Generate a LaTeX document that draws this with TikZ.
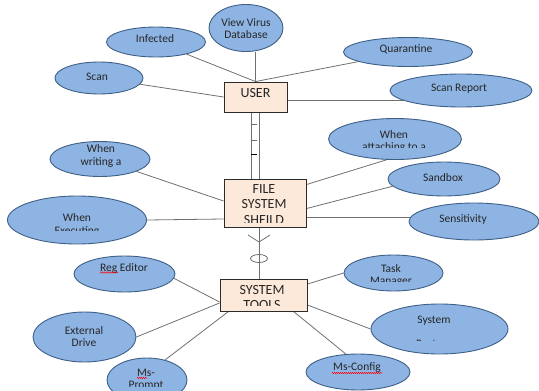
\documentclass[tikz,border=0pt]{standalone}
\usepackage{fontspec}
\setmainfont{Carlito}
\usetikzlibrary{shapes.geometric,calc,backgrounds,decorations.pathmorphing}
\definecolor{ellfill}{HTML}{8EB4E3}
\definecolor{elldraw}{HTML}{3E5F86}
\definecolor{boxfill}{HTML}{FDE9D9}
\definecolor{boxdraw}{HTML}{2B2B2B}
\definecolor{linec}{HTML}{707070}
\definecolor{txt}{HTML}{262626}
\begin{document}
\begin{tikzpicture}[x=1pt,y=-1pt,
 ell/.style={ellipse, draw=elldraw, fill=ellfill, line width=0.9pt, inner sep=0pt},
 etxt/.style={text=txt, font=\fontsize{11.5}{12.5}\selectfont, align=center, inner sep=0pt},
 ebox/.style={rectangle, draw=boxdraw, fill=boxfill, line width=0.9pt, inner sep=0pt},
 btxt/.style={text=txt, font=\fontsize{14}{15.5}\selectfont, align=center, inner sep=0pt},
 conn/.style={draw=linec, line width=0.8pt},
 squig/.style={draw=red, line width=0.5pt, decorate, decoration={snake, amplitude=0.6pt, segment length=2pt}}
]
\useasboundingbox (0,0) rectangle (539,391);
\clip (0,0) rectangle (539,391);

% boxes
\node[ebox, minimum width=63pt, minimum height=30pt] (user) at (255.5,97) {};
\node[btxt] (tuser) at (255.5,93.5) {USER};
\node[ebox, minimum width=82pt, minimum height=48pt] (file) at (265,203) {};
\begin{scope}
\clip (224,179) rectangle (306,222);
\node[btxt] (tfile) at (264,204.5) {FILE\\SYSTEM\\SHEILD};
\end{scope}
\node[ebox, minimum width=87pt, minimum height=32pt] (system) at (263.5,295) {};
\begin{scope}
\clip (220,279) rectangle (307,305.5);
\node[btxt] (tsystem) at (262,297.75) {SYSTEM\\TOOLS};
\end{scope}

% USER attributes
\node[ell, minimum width=99pt, minimum height=30pt] (infected) at (156,42) {};
\node[etxt] (tinfected) at (155,39) {Infected};
\node[ell, minimum width=88pt, minimum height=32pt] (scan) at (99,78) {};
\node[etxt] (tscan) at (97,77) {Scan};
\node[ell, minimum width=74pt, minimum height=47pt] (view) at (246,28) {};
\node[etxt] (tview) at (246,28.5) {View Virus\\Database};
\node[ell, minimum width=129pt, minimum height=29pt] (quarantine) at (408,52) {};
\node[etxt] (tquar) at (406,49) {Quarantine};
\node[ell, minimum width=142pt, minimum height=33pt] (scanrep) at (461,90.5) {};
\node[etxt] (tscanrep) at (459,89) {Scan Report};

% FILE attributes
\node[ell, minimum width=100pt, minimum height=35pt] (writing) at (100,159) {};
\node[etxt] (twriting) at (101,156) {When\\writing a};
\node[ell, minimum width=139pt, minimum height=48pt] (executing) at (77,220) {};
\begin{scope}
\clip (8,196) rectangle (147,230.5);
\node[etxt] (texec) at (77,225) {When\\Executing};
\end{scope}
\node[ell, minimum width=133pt, minimum height=41pt] (attaching) at (395,139) {};
\begin{scope}
\clip (328,118) rectangle (461,147);
\node[etxt] (tattach) at (394,141.5) {When\\attaching to a};
\end{scope}
\node[ell, minimum width=112pt, minimum height=34pt] (sandbox) at (444,179) {};
\node[etxt] (tsandbox) at (443,178) {Sandbox};
\node[ell, minimum width=130pt, minimum height=37pt] (sensitivity) at (474,221.5) {};
\node[etxt] (tsens) at (463,219) {Sensitivity};

% SYSTEM TOOLS attributes
\node[ell, minimum width=101pt, minimum height=36pt] (regedit) at (124.5,274) {};
\node[etxt] (tregedit) at (124,268.5) {Reg Editor};
\node[ell, minimum width=103pt, minimum height=50pt] (external) at (84.5,337) {};
\node[etxt] (texternal) at (84,336.5) {External\\Drive};
\node[ell, minimum width=80pt, minimum height=44pt] (msprompt) at (147,380) {};
\begin{scope}
\clip (107,358) rectangle (187,386);
\node[etxt] (tmsprompt) at (146,379.5) {Ms-\\Prompt};
\end{scope}
\node[ell, minimum width=99pt, minimum height=36pt] (taskmgr) at (393.5,273) {};
\begin{scope}
\clip (344,255) rectangle (443,281.5);
\node[etxt] (ttask) at (391,275.5) {Task\\Manager};
\end{scope}
\node[ell, minimum width=137pt, minimum height=50pt] (sysrestore) at (439.5,329) {};
\node[etxt] (tsysr1) at (434,321) {System};
\begin{scope}
\clip (371,304) rectangle (508,340.5);
\node[etxt] (tsysr2) at (434,344) {Restore};
\end{scope}
\node[ell, minimum width=104pt, minimum height=36pt] (msconfig) at (358,372) {};
\node[etxt] (tmsconfig) at (357,368) {Ms-Config};

% spelling marks
\draw[squig] (100,272.5) -- (118,272.5);
\draw[squig] (137,378) -- (147,378);
\draw[squig] (332,373) -- (382,373);

% relationship marks
\coordinate (dl) at (251,0);
\coordinate (dr) at (259,0);
\coordinate (cf) at (259,242);
\coordinate (cfl) at (248,235);
\coordinate (cfr) at (270,235);
\node[draw=linec, line width=0.8pt, ellipse, minimum width=17pt, minimum height=8pt, inner sep=0pt] (opt) at (259,258.5) {};

\begin{scope}[on background layer]
\draw[conn] (scan) -- (user.west);
\draw[conn] (infected) -- (user.north);
\draw[conn] (user.north) -- (user.north |- view.south);
\draw[conn] (quarantine) -- (user.north);
\coordinate (ue) at ($(user.east)+(0,3)$);
\draw[conn] (ue) -- (ue -| scanrep.center);

\draw[conn, line width=1pt] (dl |- user.south) -- (dl |- file.north);
\draw[conn, line width=1pt] (dr |- user.south) -- (dr |- file.north);
\draw[conn] (251,124) -- (257,124);
\draw[conn] (251,140) -- (257,140);
\draw[conn, draw=black] (251,154) -- (257,154);

\draw[conn] (writing) -- ($(file.west)+(0,-2)$);
\draw[conn] (executing.east) -- ($(file.west)+(0,16)$);
\draw[conn] ($(file.north east)+(0,6)$) -- (attaching.-112);
\draw[conn] ($(file.north east)+(0,30)$) -- (sandbox.-172);
\coordinate (fe) at ($(file.east)+(0,14)$);
\draw[conn] (fe) -- (fe -| sensitivity.center);

\draw[conn] (cf |- file.south) -- (cf |- system.north);
\draw[conn] (cfl) -- (cf) -- (cfr);

\coordinate (sw) at ($(system.west)+(0,7)$);
\draw[conn] (regedit.-5) -- (sw);
\draw[conn] (external.east) -- ($(system.west)+(0,8)$);
\draw[conn] (msprompt.48) -- ($(system.south west)+(9,0)$);
\draw[conn] (taskmgr.west) -- ($(system.east)+(0,-11)$);
\draw[conn] (sysrestore.west) -- ($(system.east)+(0,10)$);
\draw[conn] (msconfig.124) -- ($(system.south east)+(-14,0)$);
\end{scope}
\end{tikzpicture}
\end{document}
